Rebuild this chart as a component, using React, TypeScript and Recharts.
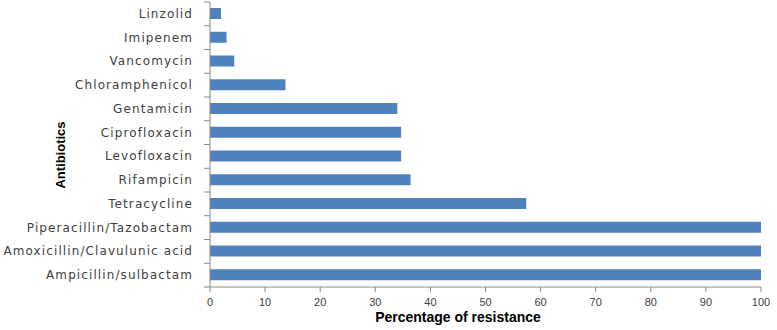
import { BarChart, Bar, XAxis, YAxis, Label } from 'recharts'

const antibiotics = [
  'Linzolid',
  'Imipenem',
  'Vancomycin',
  'Chloramphenicol',
  'Gentamicin',
  'Ciprofloxacin',
  'Levofloxacin',
  'Rifampicin',
  'Tetracycline',
  'Piperacillin/Tazobactam',
  'Amoxicillin/Clavulunic acid',
  'Ampicillin/sulbactam',
]
const resistance = [2, 3, 4.4, 13.7, 34, 34.7, 34.7, 36.4, 57.4, 100, 100, 100]
const xTicks = [0, 10, 20, 30, 40, 50, 60, 70, 80, 90, 100]

const data = antibiotics.map((name, i) => ({ name, value: resistance[i] }))

const W = 777
const H = 330
const TOP = 2
const AXIS_X = 210
const AXIS_BOTTOM = 287
const BAND = (AXIS_BOTTOM - TOP) / antibiotics.length
const AXIS_COLOR = '#868686'
const TEXT_COLOR = '#404040'

// category label plus a tick mark on the band boundary (Excel style)
function CategoryTick(props: any) {
  const { y, payload, index } = props
  return (
    <g>
      {index === 0 && (
        <line x1={AXIS_X - 6} x2={AXIS_X} y1={y - BAND / 2} y2={y - BAND / 2} stroke={AXIS_COLOR} />
      )}
      <line x1={AXIS_X - 6} x2={AXIS_X} y1={y + BAND / 2} y2={y + BAND / 2} stroke={AXIS_COLOR} />
      <text
        x={AXIS_X - 17}
        y={y}
        dy={4}
        textAnchor="end"
        fill={TEXT_COLOR}
        fontSize={12}
        letterSpacing={1.1}
        fontFamily="DejaVu Sans, sans-serif"
      >
        {payload.value}
      </text>
    </g>
  )
}

export default function App() {
  return (
    <div style={{ position: 'absolute', left: 0, top: 0, background: '#fff' }}>
      <BarChart
        width={W}
        height={H}
        data={data}
        layout="vertical"
        margin={{ top: TOP, right: 16, bottom: 0, left: 0 }}
        barSize={11}
      >
        <XAxis
          type="number"
          domain={[0, 100]}
          ticks={xTicks}
          interval={0}
          height={H - AXIS_BOTTOM}
          stroke={AXIS_COLOR}
          tickSize={5}
          tickMargin={6}
          tick={{ fill: TEXT_COLOR, fontSize: 11, fontFamily: 'Liberation Sans, Arial, sans-serif' }}
        >
          <Label
            content={() => (
              <text
                x={458}
                y={322}
                textAnchor="middle"
                fontSize={14}
                fontWeight="bold"
                fill="#000"
                fontFamily="Liberation Sans, Arial, sans-serif"
              >
                Percentage of resistance
              </text>
            )}
          />
        </XAxis>
        <YAxis
          type="category"
          dataKey="name"
          width={AXIS_X}
          interval={0}
          tickLine={false}
          stroke={AXIS_COLOR}
          tick={<CategoryTick />}
        >
          <Label
            content={() => (
              <text
                x={62}
                y={155}
                transform="rotate(-90 62 155)"
                textAnchor="middle"
                dominantBaseline="middle"
                fontSize={13}
                fontWeight="bold"
                fill="#000"
                fontFamily="Liberation Sans, Arial, sans-serif"
              >
                Antibiotics
              </text>
            )}
          />
        </YAxis>
        <Bar dataKey="value" fill="#4F81BD" isAnimationActive={false} />
      </BarChart>
    </div>
  )
}
